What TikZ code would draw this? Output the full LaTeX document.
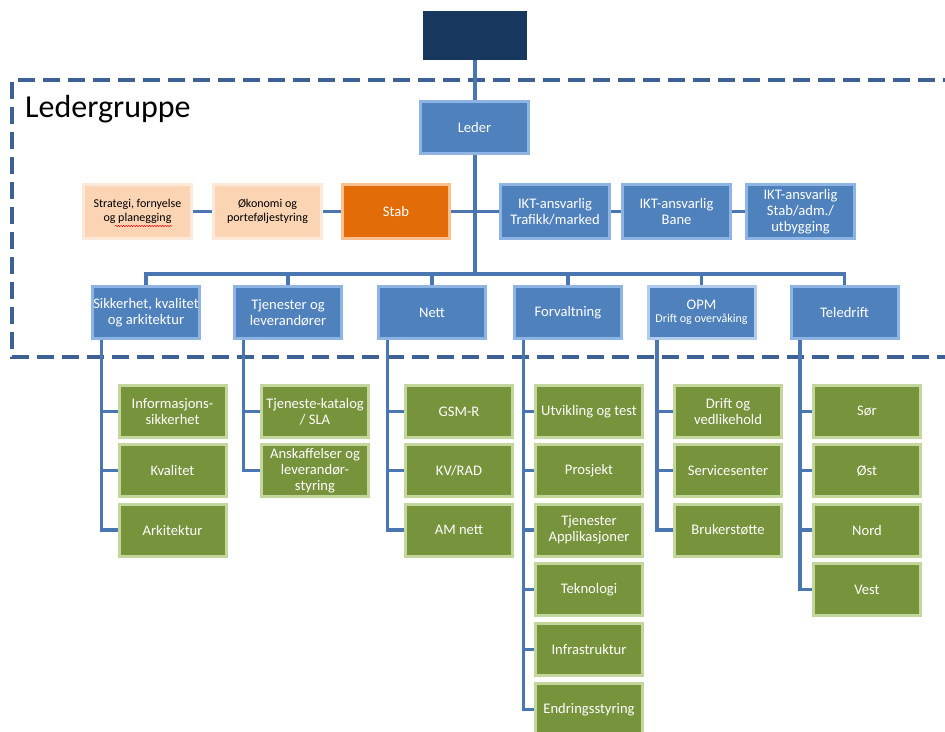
\documentclass[tikz,border=0pt]{standalone}
\usepackage{fontspec}
\setmainfont{Carlito}
\usetikzlibrary{backgrounds,decorations.pathmorphing}
\definecolor{navy}{HTML}{17375E}
\definecolor{bfill}{HTML}{4F81BD}
\definecolor{bborder}{HTML}{8EB4E3}
\definecolor{gfill}{HTML}{77933C}
\definecolor{gborder}{HTML}{C3D69B}
\definecolor{pfill}{HTML}{FBD4B4}
\definecolor{pborder}{HTML}{FDE9D9}
\definecolor{ofill}{HTML}{E36C09}
\definecolor{oborder}{HTML}{FAC090}
\definecolor{lcol}{HTML}{4A76B2}
\definecolor{dcol}{HTML}{3D6194}
\tikzset{
  box/.style={draw, line width=3pt, minimum width=107pt, minimum height=52pt, inner sep=1pt, align=center},
  bluebox/.style={box, fill=bfill, draw=bborder, text=white, font=\fontsize{14.6}{16.5}\selectfont},
  greenbox/.style={box, fill=gfill, draw=gborder, text=white, font=\fontsize{14.6}{16.2}\selectfont},
  peachbox/.style={box, fill=pfill, draw=pborder, text=black, minimum width=108pt, minimum height=54pt, font=\fontsize{12}{14}\selectfont},
  orangebox/.style={box, fill=ofill, draw=oborder, text=white, minimum height=54pt, font=\fontsize{14.6}{16.5}\selectfont},
  ikt/.style={bluebox, minimum width=108pt, minimum height=54pt},
  topbox/.style={fill=navy, minimum width=104pt, minimum height=49pt, inner sep=0pt},
  conn/.style={draw=lcol, line width=3.5pt},
  frame/.style={draw=dcol, line width=4pt, dash pattern=on 17pt off 8pt},
}
\begin{document}
\begin{tikzpicture}[x=1pt,y=-1pt]
\useasboundingbox (0,0) rectangle (945,731);
\clip (0,0) rectangle (945,731);
% top
\node[topbox] (top) at (475,35.5) {};
\node[anchor=base west, font=\fontsize{32}{36}\selectfont, inner sep=0pt] (title) at (25,117) {Ledergruppe};
\node[bluebox, minimum width=108pt] (leder) at (474.5,127.5) {Leder};
% row 2
\node[peachbox] (strat) at (137.5,211.5) {Strategi, fornyelse\\og planegging};
\node[peachbox] (okon) at (267.5,211.5) {Økonomi og\\porteføljestyring};
\node[orangebox] (stab) at (396,211.5) {Stab};
\node[ikt, minimum width=109pt] (ikta) at (555,211.5) {IKT-ansvarlig\\Trafikk/marked};
\node[ikt] (iktb) at (676.5,211.5) {IKT-ansvarlig\\Bane};
\node[ikt, font=\fontsize{14.6}{16.3}\selectfont] (iktc) at (800.5,211.5) {IKT-ansvarlig\\Stab/adm./\\utbygging};
% row 3
\node[bluebox, inner xsep=0pt] (sik) at (146,312.5) {Sikkerhet, kvalitet\\og arkitektur};
\node[bluebox] (tje) at (288,312.5) {Tjenester og\\leverandører};
\node[bluebox] (nett) at (432,312.5) {Nett};
\node[bluebox] (forv) at (568,312.5) {Forvaltning};
\node[bluebox, draw=bborder!70!white] (opm) at (701.5,312.5) {OPM\\[-3pt]{\fontsize{12}{13}\selectfont Drift og overvåking}};
\node[bluebox] (tele) at (844.5,312.5) {Teledrift};
% column 1
\node[greenbox] (ia) at (172.5,411.5) {Informasjons-\\sikkerhet};
\node[greenbox] (kv) at (172.5,470.5) {Kvalitet};
\node[greenbox] (ark) at (172.5,530) {Arkitektur};
% column 2
\node[greenbox, inner xsep=0pt] (kat) at (315,411.5) {Tjeneste-katalog\\/ SLA};
\node[greenbox] (ansk) at (315,470.5) {Anskaffelser og\\leverandør-\\styring};
% column 3
\node[greenbox] (gsm) at (459,411.5) {GSM-R};
\node[greenbox] (kvrad) at (459,470.5) {KV/RAD};
\node[greenbox] (am) at (459,530) {AM nett};
% column 4
\node[greenbox, inner xsep=0pt] (utv) at (589,411.5) {Utvikling og test};
\node[greenbox] (pro) at (589,470.5) {Prosjekt};
\node[greenbox] (tapp) at (589,530) {Tjenester\\Applikasjoner};
\node[greenbox] (tek) at (589,589.5) {Teknologi};
\node[greenbox] (infra) at (589,649.5) {Infrastruktur};
\node[greenbox] (endr) at (589,709.5) {Endringsstyring};
% column 5
\node[greenbox] (dv) at (728,411.5) {Drift og\\vedlikehold};
\node[greenbox] (ss) at (728,470.5) {Servicesenter};
\node[greenbox] (bs) at (728,530) {Brukerstøtte};
% column 6
\node[greenbox] (sor) at (867,411.5) {Sør};
\node[greenbox] (ost) at (867,470.5) {Øst};
\node[greenbox] (nord) at (867,530) {Nord};
\node[greenbox] (vest) at (867,589.5) {Vest};
% spell-check squiggle
\draw[red, line width=0.5pt, decorate, decoration={snake, amplitude=0.6pt, segment length=2.6pt}] (115,226) -- (172,226);
\begin{scope}[on background layer]
  \draw[frame] (960,80) -- (12,80) -- (12,357) -- (960,357);
  \coordinate (bus) at (475,274);
  \draw[conn] (top.south) -- (bus);
  \draw[conn] (strat.east) -- (okon.west);
  \draw[conn] (okon.east) -- (stab.west);
  \draw[conn] (stab.east) -- (ikta.west);
  \draw[conn] (ikta.east) -- (iktb.west);
  \draw[conn] (iktb.east) -- (iktc.west);
  \draw[conn] (sik.north) -- (sik.north |- bus) -- (tele.north |- bus) -- (tele.north);
  \foreach \n in {tje,nett,forv,opm} \draw[conn] (\n.north) -- (\n.north |- bus);
  \foreach \p/\c in {sik/ia,sik/kv,sik/ark,tje/kat,tje/ansk,nett/gsm,nett/kvrad,nett/am,forv/utv,forv/pro,forv/tapp,forv/tek,forv/infra,forv/endr,opm/dv,opm/ss,opm/bs,tele/sor,tele/ost,tele/nord,tele/vest}
    \draw[conn] ([xshift=10.5pt]\p.south west) |- (\c.west);
\end{scope}
\end{tikzpicture}
\end{document}
